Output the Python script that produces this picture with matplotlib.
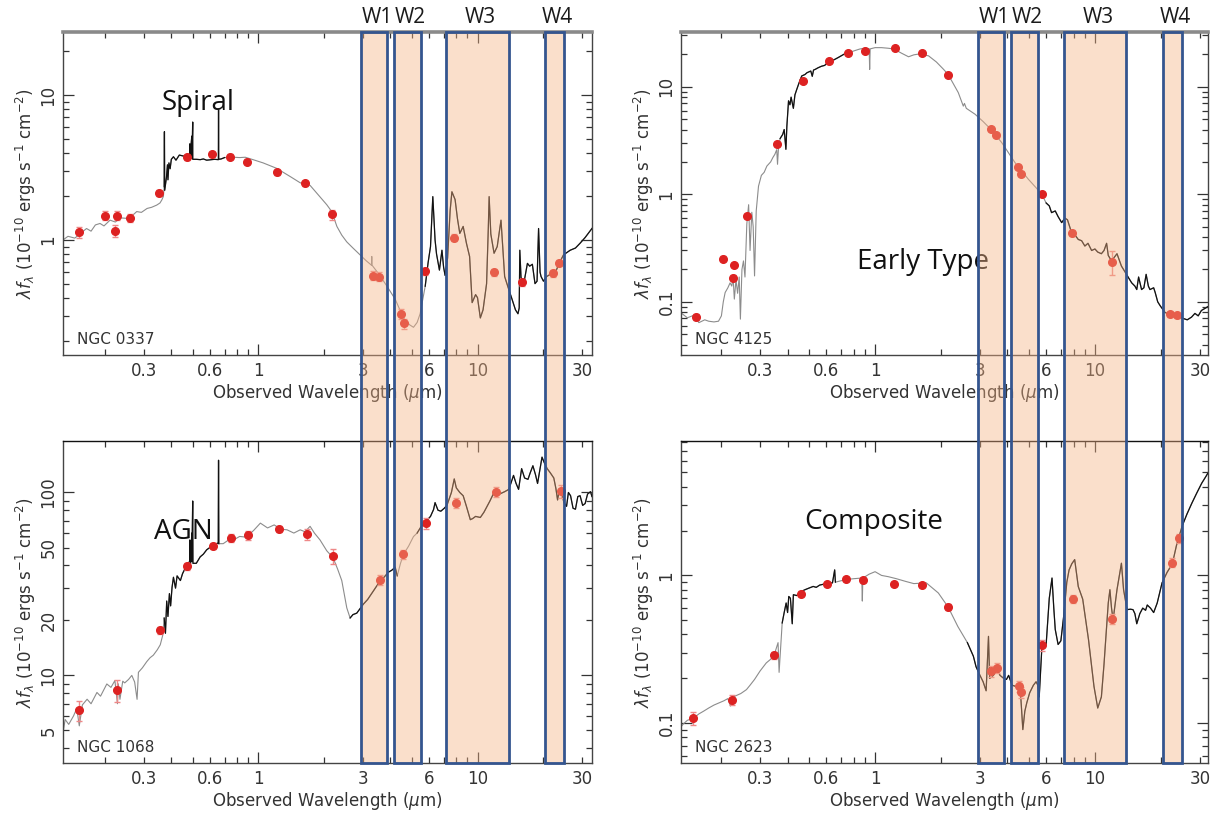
import matplotlib
matplotlib.use('Agg')
import matplotlib.pyplot as plt
import numpy as np
from matplotlib.patches import Rectangle
from matplotlib.ticker import FixedLocator, FuncFormatter

# ---- NGC 0337 (spiral) ----
spiral_wave = [0.128, 0.135, 0.145, 0.155, 0.164, 0.172, 0.180, 0.189, 0.197, 0.210, 0.222, 0.235,
               0.250, 0.265, 0.278, 0.292, 0.310, 0.325, 0.343, 0.355, 0.362, 0.368, 0.371, 0.372,
               0.373, 0.380, 0.384, 0.386, 0.390, 0.395, 0.400, 0.409, 0.420, 0.435, 0.455, 0.470,
               0.485, 0.486, 0.4865, 0.496, 0.497, 0.5007, 0.501, 0.520, 0.542, 0.560, 0.580, 0.600,
               0.630, 0.656, 0.657, 0.658, 0.675, 0.700, 0.740, 0.770, 0.820, 0.870, 0.950, 1.05,
               1.21, 1.40, 1.55, 1.72, 1.90, 2.05, 2.16, 2.28, 2.40, 2.53, 2.70, 2.91, 3.10, 3.28,
               3.29, 3.30, 3.55, 3.86, 4.21, 4.59, 4.90, 5.10, 5.30, 5.47, 5.77, 5.95, 6.10, 6.25,
               6.40, 6.50, 6.70, 6.88, 7.00, 7.11, 7.30, 7.50, 7.64, 7.90, 8.10, 8.30, 8.60, 8.90,
               9.20, 9.45, 9.80, 10.0, 10.3, 10.6, 11.0, 11.2, 11.3, 11.5, 11.9, 12.3, 12.8, 13.1,
               13.3, 13.8, 14.3, 14.9, 15.3, 15.5, 15.6, 15.8, 16.3, 16.9, 17.3, 17.8, 18.3, 18.7,
               19.0, 19.3, 19.5, 20.0, 20.7, 21.5, 22.8, 23.7, 24.7, 26.5, 28.0, 29.4, 31.0, 33.3]
spiral_flux = [1.00, 1.06, 1.03, 1.12, 1.20, 1.15, 1.27, 1.30, 1.25, 1.37, 1.33, 1.42,
               1.41, 1.47, 1.57, 1.55, 1.65, 1.68, 1.74, 1.80, 1.89, 2.00, 2.33, 5.58,
               2.20, 2.70, 3.30, 2.60, 3.40, 3.10, 3.60, 3.75, 3.55, 3.85, 3.79, 3.70,
               3.72, 4.60, 3.70, 5.20, 3.65, 6.50, 3.60, 3.60, 3.58, 3.62, 3.55, 3.57,
               3.60, 3.58, 7.88, 3.60, 3.62, 3.70, 3.72, 3.72, 3.70, 3.72, 3.57, 3.40,
               3.12, 2.73, 2.48, 2.38, 2.00, 1.75, 1.57, 1.24, 1.08, 0.97, 0.88, 0.79, 0.72, 0.67,
               0.77, 0.67, 0.58, 0.48, 0.39, 0.29, 0.26, 0.25, 0.27, 0.31, 0.48, 0.70, 0.90, 1.99,
               1.00, 0.80, 0.62, 0.85, 0.65, 0.57, 0.75, 1.60, 2.15, 1.90, 1.40, 1.11, 1.24, 0.95,
               0.77, 0.37, 0.42, 0.40, 0.29, 0.33, 0.50, 1.20, 1.99, 1.10, 0.81, 0.90, 1.37, 0.80,
               0.56, 0.47, 0.40, 0.33, 0.31, 0.34, 0.85, 0.55, 0.51, 0.69, 0.66, 0.68, 0.50, 0.52,
               1.20, 0.60, 0.56, 0.52, 0.56, 0.58, 0.61, 0.70, 0.79, 0.85, 0.88, 0.95, 1.04, 1.20]
spiral_black = [(0.37, 0.70), (5.6, 34.0)]
spiral_pt_wave = [0.152, 0.200, 0.222, 0.226, 0.258, 0.353, 0.471, 0.613, 0.743, 0.885, 1.22, 1.63,
                  2.16, 3.35, 3.56, 4.48, 4.61, 5.75, 7.83, 11.9, 15.9, 22.2, 23.5]
spiral_pt_flux = [1.13, 1.47, 1.16, 1.47, 1.42, 2.12, 3.72, 3.90, 3.75, 3.47, 2.93, 2.46,
                  1.50, 0.567, 0.558, 0.309, 0.266, 0.608, 1.04, 0.599, 0.511, 0.589, 0.698]
spiral_pt_err = [0.09, 0.07, 0.10, 0.07, 0.07, 0.05, 0.04, 0.04, 0.04, 0.04, 0.04, 0.04,
                 0.08, 0.07, 0.07, 0.08, 0.08, 0.05, 0.06, 0.06, 0.05, 0.05, 0.05]

# ---- NGC 4125 (early type) ----
early_wave = [0.131, 0.140, 0.150, 0.158, 0.168, 0.175, 0.185, 0.194, 0.200, 0.204, 0.208, 0.214,
              0.219, 0.223, 0.226, 0.229, 0.233, 0.237, 0.241, 0.244, 0.248, 0.252, 0.256, 0.261,
              0.266, 0.270, 0.275, 0.279, 0.283, 0.288, 0.295, 0.304, 0.313, 0.322, 0.335, 0.343,
              0.350, 0.357, 0.360, 0.364, 0.370, 0.380, 0.386, 0.393, 0.397, 0.404, 0.410, 0.415,
              0.425, 0.432, 0.440, 0.452, 0.464, 0.480, 0.490, 0.510, 0.518, 0.525, 0.534, 0.550,
              0.570, 0.590, 0.620, 0.650, 0.680, 0.720, 0.760, 0.800, 0.850, 0.900, 0.940, 0.945,
              0.950, 1.00, 1.07, 1.15, 1.22, 1.32, 1.42, 1.50, 1.57, 1.75, 1.90, 2.05, 2.15, 2.28,
              2.39, 2.52, 2.55, 2.60, 2.85, 3.10, 3.37, 3.77, 4.33, 4.98, 5.40, 5.73, 6.00, 6.20,
              6.35, 6.60, 6.80, 7.06, 7.30, 7.50, 7.83, 8.10, 8.40, 8.70, 9.00, 9.30, 9.66, 10.0,
              10.3, 10.7, 11.0, 11.3, 11.5, 11.9, 12.6, 13.2, 13.7, 14.2, 14.7, 15.2, 15.5, 15.8,
              16.3, 16.7, 17.1, 17.5, 17.8, 18.5, 18.8, 19.3, 19.8, 20.8, 21.7, 23.7, 24.7, 26.3,
              27.5, 28.5, 29.5, 30.5, 32.6]
early_flux = [0.079, 0.071, 0.075, 0.064, 0.068, 0.066, 0.065, 0.066, 0.074, 0.100, 0.122, 0.135,
              0.150, 0.140, 0.170, 0.106, 0.160, 0.120, 0.170, 0.069, 0.200, 0.240, 0.170, 0.530,
              0.800, 0.300, 0.680, 0.500, 0.174, 0.700, 1.19, 1.50, 1.60, 1.83, 2.00, 2.20,
              2.35, 2.60, 1.90, 2.80, 3.30, 3.60, 4.00, 2.62, 4.30, 7.40, 6.80, 8.00,
              6.30, 8.40, 9.40, 11.0, 12.6, 13.0, 13.5, 14.0, 12.5, 14.3, 14.5, 15.0,
              15.5, 15.8, 17.4, 17.8, 18.7, 20.0, 20.8, 21.5, 22.4, 22.9, 22.5, 14.5,
              22.5, 23.1, 23.1, 22.8, 22.4, 20.5, 19.0, 19.8, 20.1, 19.4, 17.0, 14.5, 13.0, 10.5,
              8.83, 6.60, 7.00, 6.30, 5.55, 4.75, 4.00, 3.02, 1.97, 1.38, 1.15, 1.00, 0.83, 0.78,
              0.675, 0.70, 0.62, 0.545, 0.60, 0.58, 0.44, 0.42, 0.38, 0.37, 0.33, 0.35, 0.30, 0.31,
              0.29, 0.28, 0.30, 0.35, 0.27, 0.24, 0.28, 0.215, 0.19, 0.168, 0.15, 0.14, 0.13, 0.17,
              0.13, 0.135, 0.18, 0.14, 0.13, 0.135, 0.122, 0.10, 0.092, 0.080, 0.076, 0.075, 0.071, 0.068,
              0.072, 0.078, 0.074, 0.083, 0.090]
early_black = [(0.37, 0.72), (5.8, 34.0)]
early_pt_wave = [0.154, 0.203, 0.225, 0.229, 0.262, 0.357, 0.471, 0.620, 0.752, 0.901, 1.23, 1.63,
                 2.15, 3.37, 3.55, 4.48, 4.61, 5.73, 7.83, 11.9, 21.9, 23.5]
early_pt_flux = [0.072, 0.252, 0.168, 0.220, 0.628, 2.96, 11.3, 17.4, 20.6, 21.5, 22.7, 20.4,
                 12.8, 4.02, 3.56, 1.79, 1.56, 1.01, 0.44, 0.237, 0.0765, 0.075]
early_pt_err = [0.06, 0.05, 0.05, 0.05, 0.05, 0.04, 0.03, 0.03, 0.03, 0.03, 0.03, 0.03,
                0.04, 0.04, 0.04, 0.05, 0.05, 0.05, 0.06, 0.25, 0.05, 0.05]

# ---- NGC 1068 (AGN) ----
agn_wave = [0.128, 0.131, 0.136, 0.143, 0.148, 0.152, 0.157, 0.165, 0.172, 0.183, 0.190, 0.203,
            0.212, 0.221, 0.227, 0.229, 0.233, 0.240, 0.245, 0.255, 0.264, 0.272, 0.279, 0.283,
            0.295, 0.309, 0.320, 0.331, 0.345, 0.356, 0.365, 0.371, 0.376, 0.381, 0.386, 0.392,
            0.397, 0.403, 0.409, 0.418, 0.425, 0.440, 0.450, 0.470, 0.485, 0.486, 0.490, 0.4959,
            0.4965, 0.5007, 0.502, 0.520, 0.542, 0.560, 0.580, 0.620, 0.655, 0.657, 0.659, 0.690,
            0.730, 0.769, 0.820, 0.880, 0.950, 1.02, 1.10, 1.18, 1.26, 1.35, 1.45, 1.55,
            1.63, 1.72, 1.80, 1.91, 2.05, 2.19, 2.30, 2.40, 2.53, 2.62, 2.70, 2.81,
            3.01, 3.15, 3.35, 3.60, 3.75, 3.92, 4.05, 4.21, 4.30, 4.45, 4.60, 4.85,
            5.10, 5.30, 5.50, 5.85, 6.10, 6.30, 6.40, 6.60, 6.80, 7.05, 7.25, 7.60,
            7.83, 8.00, 8.30, 8.60, 8.90, 9.27, 9.50, 9.80, 10.3, 10.7, 11.0, 11.4,
            11.8, 12.2, 12.6, 13.3, 13.9, 14.3, 14.6, 15.0, 15.4, 15.9, 16.4, 17.0,
            17.4, 17.9, 18.4, 18.8, 19.2, 19.7, 20.2, 20.8, 21.5, 22.3, 22.8, 23.2,
            23.7, 24.2, 24.8, 25.5, 26.0, 26.6, 27.3, 28.0, 28.7, 29.4, 30.2, 31.0,
            31.8, 32.8, 33.3]
agn_flux = [4.84, 5.74, 5.40, 6.00, 6.60, 5.30, 6.90, 7.41, 7.00, 8.07, 7.70, 8.98,
            8.60, 9.37, 7.00, 9.00, 7.40, 9.30, 9.10, 9.50, 10.0, 9.20, 7.40, 10.4,
            11.0, 11.9, 12.5, 12.9, 13.8, 14.7, 16.5, 20.6, 17.0, 25.5, 21.0, 28.0,
            24.0, 30.3, 34.4, 30.0, 35.0, 33.0, 36.0, 40.0, 42.0, 55.0, 41.0, 60.0,
            42.0, 89.8, 41.0, 41.0, 44.5, 46.0, 48.6, 51.5, 53.0, 150.0, 52.5, 52.5,
            55.0, 55.0, 57.5, 57.0, 62.0, 68.0, 64.0, 66.5, 63.0, 62.5, 60.0, 62.5,
            61.0, 65.3, 60.0, 55.0, 48.0, 44.0, 38.0, 33.0, 23.4, 20.6, 21.5, 21.9,
            24.5, 26.0, 29.0, 33.0, 34.5, 36.7, 37.5, 39.0, 35.0, 41.0, 46.0, 51.0,
            57.4, 60.0, 64.5, 70.0, 74.0, 80.7, 88.0, 80.0, 79.0, 82.0, 85.0, 100.0,
            118.6, 106.0, 100.0, 96.0, 84.0, 71.0, 72.0, 74.0, 73.0, 78.0, 83.0, 90.0,
            98.0, 97.0, 98.0, 101.0, 104.0, 115.0, 124.0, 112.0, 104.0, 135.0, 120.0, 118.0,
            128.0, 140.0, 125.0, 112.0, 130.0, 156.0, 145.0, 135.0, 128.0, 120.0, 105.0, 91.0,
            105.0, 100.0, 88.0, 84.0, 100.0, 96.0, 82.0, 81.0, 95.0, 96.0, 85.0, 87.0,
            98.0, 101.0, 95.0]
agn_black = [(0.37, 0.66), (2.55, 4.3), (5.2, 34.0)]
agn_pt_wave = [0.152, 0.227, 0.356, 0.472, 0.617, 0.748, 0.895, 1.247, 1.66, 2.19, 3.60, 4.56,
               5.81, 7.98, 12.1, 24.0]
agn_pt_flux = [6.44, 8.32, 17.6, 39.4, 51.1, 56.6, 58.4, 63.4, 59.2, 44.9, 33.3, 46.0,
               68.1, 88.0, 100.8, 102.0]
agn_pt_err = [0.12, 0.14, 0.04, 0.04, 0.04, 0.05, 0.06, 0.04, 0.07, 0.09, 0.06, 0.06,
              0.07, 0.06, 0.06, 0.08]

# ---- NGC 2623 (composite) ----
comp_wave = [0.128, 0.134, 0.140, 0.150, 0.158, 0.166, 0.175, 0.185, 0.196, 0.205, 0.214, 0.220,
             0.226, 0.231, 0.245, 0.260, 0.270, 0.283, 0.300, 0.320, 0.335, 0.348, 0.362, 0.366,
             0.378, 0.386, 0.394, 0.400, 0.405, 0.412, 0.420, 0.425, 0.440, 0.463, 0.480, 0.500,
             0.523, 0.540, 0.560, 0.600, 0.640, 0.655, 0.660, 0.700, 0.750, 0.800, 0.870, 0.875,
             0.880, 0.940, 1.00, 1.07, 1.15, 1.25, 1.38, 1.50, 1.71, 1.94, 2.15, 2.38,
             2.63, 2.80, 2.88, 3.00, 3.10, 3.20, 3.28, 3.32, 3.45, 3.60, 3.70, 3.85,
             3.96, 4.05, 4.20, 4.45, 4.60, 4.70, 4.80, 4.90, 5.05, 5.25, 5.40, 5.50,
             5.58, 5.74, 6.00, 6.20, 6.38, 6.50, 6.60, 6.80, 7.00, 7.20, 7.45, 7.63,
             7.85, 8.09, 8.40, 8.80, 9.35, 9.90, 10.3, 10.7, 11.0, 11.2, 11.5, 11.7,
             11.9, 12.1, 12.6, 13.2, 13.5, 14.0, 14.5, 14.9, 15.2, 15.5, 16.0, 16.5,
             17.0, 17.3, 17.9, 18.5, 19.2, 20.2, 21.3, 22.5, 23.5, 24.9, 26.2, 27.6,
             29.0, 30.6, 32.0, 33.3]
comp_flux = [0.090, 0.098, 0.104, 0.108, 0.115, 0.120, 0.126, 0.132, 0.137, 0.141, 0.146, 0.130,
             0.148, 0.152, 0.158, 0.168, 0.180, 0.197, 0.225, 0.255, 0.270, 0.290, 0.350, 0.220,
             0.476, 0.560, 0.650, 0.560, 0.720, 0.700, 0.470, 0.740, 0.730, 0.780, 0.800, 0.820,
             0.842, 0.830, 0.860, 0.880, 0.890, 1.09, 0.900, 0.920, 0.940, 0.950, 0.960, 0.670,
             0.960, 1.02, 1.06, 1.00, 0.98, 0.95, 0.91, 0.88, 0.89, 0.76, 0.61, 0.45,
             0.35, 0.283, 0.240, 0.210, 0.190, 0.165, 0.386, 0.200, 0.210, 0.230, 0.210, 0.200,
             0.197, 0.210, 0.180, 0.175, 0.150, 0.090, 0.120, 0.137, 0.160, 0.180, 0.190, 0.180,
             0.150, 0.330, 0.340, 0.700, 0.960, 0.600, 0.430, 0.340, 0.360, 0.520, 0.900, 1.09,
             1.20, 1.28, 0.84, 0.69, 0.367, 0.177, 0.126, 0.150, 0.250, 0.370, 0.650, 0.800,
             0.600, 0.500, 0.800, 1.21, 0.800, 0.586, 0.590, 0.586, 0.550, 0.470, 0.550, 0.600,
             0.580, 0.630, 0.600, 0.560, 0.650, 0.890, 1.05, 1.20, 1.60, 2.15, 2.60, 3.09,
             3.60, 4.22, 4.70, 5.20]
comp_black = [(0.37, 0.66), (2.6, 34.0)]
comp_pt_wave = [0.149, 0.224, 0.348, 0.459, 0.604, 0.734, 0.883, 1.22, 1.63, 2.15, 3.36, 3.57,
                4.51, 4.62, 5.74, 7.94, 12.0, 22.5, 24.0]
comp_pt_flux = [0.108, 0.143, 0.287, 0.752, 0.879, 0.946, 0.925, 0.879, 0.856, 0.611, 0.224, 0.236,
                0.177, 0.161, 0.336, 0.692, 0.509, 1.22, 1.79]
comp_pt_err = [0.10, 0.08, 0.05, 0.04, 0.03, 0.03, 0.03, 0.03, 0.03, 0.04, 0.08, 0.08,
               0.08, 0.08, 0.08, 0.06, 0.08, 0.07, 0.07]

# WISE filter windows (micron)
band_names = ['W1', 'W2', 'W3', 'W4']
band_lo = [2.93, 4.15, 7.20, 20.35]
band_hi = [3.87, 5.50, 13.90, 24.85]

x_labelled = [0.3, 0.6, 1, 3, 6, 10, 30]

fig = plt.figure(figsize=(12.2, 8.15), dpi=100)
fig.patch.set_facecolor('white')

GREY = '#8c8c8c'
INK = '#333333'
RED = '#dd2222'


def log_ticks(lo, hi):
    major, minor = [], []
    for e in range(int(np.floor(np.log10(lo))) - 1, int(np.ceil(np.log10(hi))) + 1):
        for m in range(1, 10):
            v = m * 10.0 ** e
            if lo <= v <= hi:
                (major if m == 1 else minor).append(v)
    return major, minor


def labeller(keep):
    def fmt(v, pos):
        for k in keep:
            if np.isclose(v, k, rtol=1e-6):
                return '%g' % k
        return ''
    return FuncFormatter(fmt)


def sed_panel(rect, xlim, ylim, ylabels, wave, flux, black, pw, pf, perr, galaxy, tag, tag_xy, top_row):
    ax = fig.add_axes(rect)
    ax.set_xscale('log')
    ax.set_yscale('log')
    ax.set_xlim(*xlim)
    ax.set_ylim(*ylim)

    wave = np.asarray(wave)
    flux = np.asarray(flux)
    ax.plot(wave, flux, color=GREY, lw=0.8, zorder=2)
    for lo, hi in black:
        sel = (wave >= lo) & (wave <= hi)
        ax.plot(wave[sel], flux[sel], color='#111111', lw=0.9, zorder=3)

    pf = np.asarray(pf)
    ax.errorbar(pw, pf, yerr=pf * np.asarray(perr), fmt='o', ms=5.5, color=RED,
                mec=RED, ecolor='#ee8888', elinewidth=1.0, capsize=2, zorder=5)

    # PGPLOT-like frame: ticks inside on all four sides
    xmaj, xmin = log_ticks(*xlim)
    ymaj, ymin = log_ticks(*ylim)
    ax.xaxis.set_major_locator(FixedLocator(xmaj))
    ax.xaxis.set_minor_locator(FixedLocator(xmin))
    ax.yaxis.set_major_locator(FixedLocator(ymaj))
    ax.yaxis.set_minor_locator(FixedLocator(ymin))
    ax.xaxis.set_major_formatter(labeller(x_labelled))
    ax.xaxis.set_minor_formatter(labeller(x_labelled))
    ax.yaxis.set_major_formatter(labeller(ylabels))
    ax.yaxis.set_minor_formatter(labeller(ylabels))
    ax.tick_params(which='both', direction='in', top=True, right=True, color=INK,
                   labelcolor=INK, labelsize=12, width=0.9)
    ax.tick_params(which='major', length=8, pad=5)
    ax.tick_params(which='minor', length=4, pad=5)
    ax.tick_params(axis='y', which='both', labelrotation=90, pad=4)
    for t in ax.yaxis.get_major_ticks() + ax.yaxis.get_minor_ticks():
        t.label1.set_va('center')

    for s in ax.spines.values():
        s.set_color('#444444')
        s.set_linewidth(1.0)
    if top_row:
        ax.spines['top'].set_color('#8a8a8a')
        ax.spines['top'].set_linewidth(2.6)
    else:
        ax.spines['top'].set_color('#111111')

    ax.set_xlabel(r'Observed Wavelength ($\mu$m)', fontsize=12, color=INK)
    ax.xaxis.set_label_coords(0.5, -0.083)
    ax.set_ylabel(r'$\lambda f_\lambda$ (10$^{-10}$ ergs s$^{-1}$ cm$^{-2}$)', fontsize=12, color=INK)
    ax.yaxis.set_label_coords(-0.047, 0.5)

    ax.text(0.026, 0.025, galaxy, transform=ax.transAxes, fontsize=11, color=INK,
            ha='left', va='bottom')
    ax.text(tag_xy[0], tag_xy[1], tag, transform=ax.transAxes, fontsize=20,
            family=['Open Sans', 'DejaVu Sans'], color='#111111', ha='center', va='center', zorder=6)
    return ax


ax_tl = sed_panel([0.0516, 0.5644, 0.4336, 0.3967], (0.128, 33.3), (0.161, 27.3), [1, 10],
                  spiral_wave, spiral_flux, spiral_black, spiral_pt_wave, spiral_pt_flux, spiral_pt_err,
                  'NGC 0337', 'Spiral', (0.256, 0.78), True)
ax_tr = sed_panel([0.5582, 0.5644, 0.4320, 0.3967], (0.131, 32.7), (0.032, 32.5), [0.1, 1, 10],
                  early_wave, early_flux, early_black, early_pt_wave, early_pt_flux, early_pt_err,
                  'NGC 4125', 'Early Type', (0.46, 0.288), True)
ax_bl = sed_panel([0.0516, 0.0632, 0.4336, 0.3951], (0.128, 33.3), (3.3, 190), [5, 10, 20, 50, 100],
                  agn_wave, agn_flux, agn_black, agn_pt_wave, agn_pt_flux, agn_pt_err,
                  'NGC 1068', 'AGN', (0.227, 0.719), False)
ax_br = sed_panel([0.5582, 0.0632, 0.4320, 0.3951], (0.131, 32.7), (0.053, 8.1), [0.1, 1],
                  comp_wave, comp_flux, comp_black, comp_pt_wave, comp_pt_flux, comp_pt_err,
                  'NGC 2623', 'Composite', (0.366, 0.751), False)

# WISE windows: one shaded column running through both panels of each column
to_fig = fig.transFigure.inverted()
for ax_top, ax_bot in [(ax_tl, ax_bl), (ax_tr, ax_br)]:
    y0 = ax_bot.get_position().y0
    y1 = ax_top.get_position().y1
    for name, lo, hi in zip(band_names, band_lo, band_hi):
        x0 = to_fig.transform(ax_top.transData.transform((lo, 1.0)))[0]
        x1 = to_fig.transform(ax_top.transData.transform((hi, 1.0)))[0]
        fig.patches.append(Rectangle((x0, y0), x1 - x0, y1 - y0, transform=fig.transFigure,
                                     facecolor=(0.96, 0.70, 0.52, 0.42), edgecolor='#34558f',
                                     linewidth=2.0, zorder=4))
        xc = to_fig.transform(ax_top.transData.transform((np.sqrt(lo * hi), 1.0)))[0]
        fig.text(xc + 0.0025, 0.978, name, fontsize=15, family=['Open Sans', 'DejaVu Sans'],
                 color='#1a1a1a', ha='center', va='center')

fig.savefig('out.png', dpi=100)
